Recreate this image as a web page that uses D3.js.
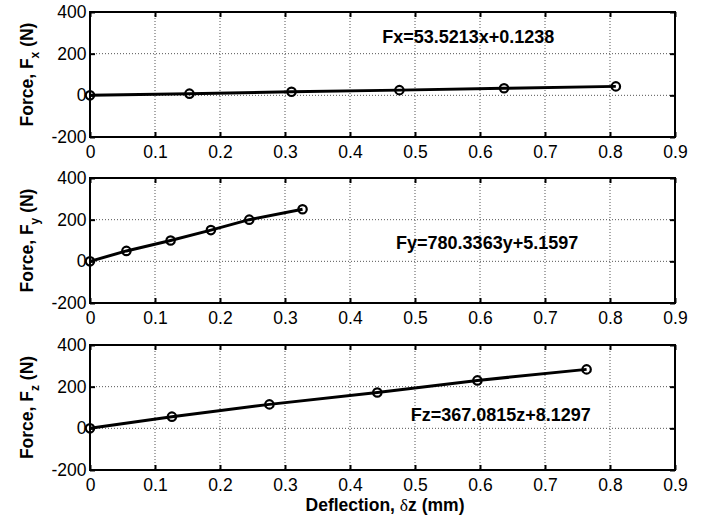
<!DOCTYPE html>
<html lang="en">
<head>
  <meta charset="UTF-8">
  <title>Force vs deflection</title>
  <style>
    body { margin: 0; background: #fff; }
    svg { display: block; font-family: "Liberation Sans", Arial, sans-serif; }
  </style>
</head>
<body>
  <svg id="chart"></svg>

  <script src="https://d3js.org/d3.v7.min.js"></script>
  <script>
    // data
    const xTicks = [0, 0.1, 0.2, 0.3, 0.4, 0.5, 0.6, 0.7, 0.8, 0.9];
    const yTicks = [-200, 0, 200, 400];

    const deflX = [0, 0.153, 0.310, 0.476, 0.637, 0.809];
    const forceX = [0, 8, 17, 25, 34, 43];
    const deflY = [0, 0.056, 0.124, 0.186, 0.245, 0.327];
    const forceY = [0, 50, 100, 150, 200, 250];
    const deflZ = [0, 0.126, 0.276, 0.442, 0.596, 0.764];
    const forceZ = [0, 56, 115, 172, 230, 283];

    const axisNames = ["x", "y", "z"];
    const equations = ["Fx=53.5213x+0.1238", "Fy=780.3363y+5.1597", "Fz=367.0815z+8.1297"];
    const eqX = [0.582, 0.611, 0.632];
    const eqY = [280, 91, 67];

    const width = 711, height = 519;
    const left = 90, right = 675;
    const panelTops = [12, 178, 345];
    const panelH = 125;

    const svg = d3.select("#chart")
      .attr("width", width)
      .attr("height", height);

    const x = d3.scaleLinear().domain([0, 0.9]).range([left, right]);

    const panels = [
      { d: deflX, f: forceX },
      { d: deflY, f: forceY },
      { d: deflZ, f: forceZ }
    ];

    panels.forEach((p, i) => {
      const top = panelTops[i];
      const y = d3.scaleLinear().domain([-200, 400]).range([top + panelH, top]);
      const g = svg.append("g");

      // grid
      g.selectAll(".vg").data(xTicks.slice(1, -1)).join("line")
        .attr("x1", d => x(d)).attr("x2", d => x(d))
        .attr("y1", top).attr("y2", top + panelH)
        .attr("stroke", "#555").attr("stroke-width", 1)
        .attr("stroke-dasharray", "1,2");
      g.selectAll(".hg").data(yTicks.slice(1, -1)).join("line")
        .attr("y1", d => y(d)).attr("y2", d => y(d))
        .attr("x1", left).attr("x2", right)
        .attr("stroke", "#555").attr("stroke-width", 1)
        .attr("stroke-dasharray", "1,2");

      // axes with inward ticks
      const fmtX = d => d === 0 ? "0" : d3.format(".1f")(d);
      const fmtY = d => String(d); // plain hyphen, like the reference
      const ax = g.append("g").attr("transform", `translate(0,${top + panelH})`)
        .call(d3.axisBottom(x).tickValues(xTicks).tickFormat(fmtX).tickSizeInner(-5).tickSizeOuter(0).tickPadding(7.5));
      const ay = g.append("g").attr("transform", `translate(${left},0)`)
        .call(d3.axisLeft(y).tickValues(yTicks).tickFormat(fmtY).tickSizeInner(-5).tickSizeOuter(0).tickPadding(3.5));
      const axT = g.append("g").attr("transform", `translate(0,${top})`)
        .call(d3.axisTop(x).tickValues(xTicks).tickFormat("").tickSizeInner(-5).tickSizeOuter(0));
      const ayR = g.append("g").attr("transform", `translate(${right},0)`)
        .call(d3.axisRight(y).tickValues(yTicks).tickFormat("").tickSizeInner(-5).tickSizeOuter(0));
      [ax, ay, axT, ayR].forEach(a => {
        a.select(".domain").remove();
        a.selectAll(".tick line").attr("stroke", "#000").attr("stroke-width", 2);
        a.selectAll("text").attr("fill", "#000").style("font-size", "17.5px");
      });
      ax.selectAll("text").attr("dy", "0.75em");

      // frame
      g.append("rect")
        .attr("x", left).attr("y", top)
        .attr("width", right - left).attr("height", panelH)
        .attr("fill", "none").attr("stroke", "#000").attr("stroke-width", 2);

      // data line and markers
      const pts = p.d.map((v, k) => [v, p.f[k]]);
      g.append("path").datum(pts)
        .attr("fill", "none").attr("stroke", "#000").attr("stroke-width", 3)
        .attr("d", d3.line().x(d => x(d[0])).y(d => y(d[1])));
      g.selectAll(".pt").data(pts).join("circle")
        .attr("cx", d => x(d[0])).attr("cy", d => y(d[1]))
        .attr("r", 4.2).attr("fill", "none")
        .attr("stroke", "#000").attr("stroke-width", 2.2);

      // equation
      g.append("text")
        .attr("x", x(eqX[i])).attr("y", y(eqY[i]))
        .attr("dy", "0.35em").attr("text-anchor", "middle")
        .style("font-size", "18px").style("font-weight", "bold")
        .text(equations[i]);

      // y label
      const yl = g.append("text")
        .attr("transform", `translate(33,${top + panelH / 2}) rotate(-90)`)
        .attr("text-anchor", "middle")
        .style("font-size", "17.5px").style("font-weight", "bold");
      yl.append("tspan").text("Force, F");
      yl.append("tspan").attr("dy", 6).style("font-size", "12px").text(axisNames[i]);
      yl.append("tspan").attr("dy", -6).text(" (N)");
    });

    // x label
    const xl = svg.append("text")
      .attr("x", 385).attr("y", 511)
      .attr("text-anchor", "middle")
      .style("font-size", "17.5px").style("font-weight", "bold");
    xl.append("tspan").text("Deflection, ");
    xl.append("tspan").style("font-family", "'Liberation Serif', 'Times New Roman', serif")
      .style("font-weight", "normal").text("δ");
    xl.append("tspan").text("z (mm)");
  </script>
</body>
</html>
